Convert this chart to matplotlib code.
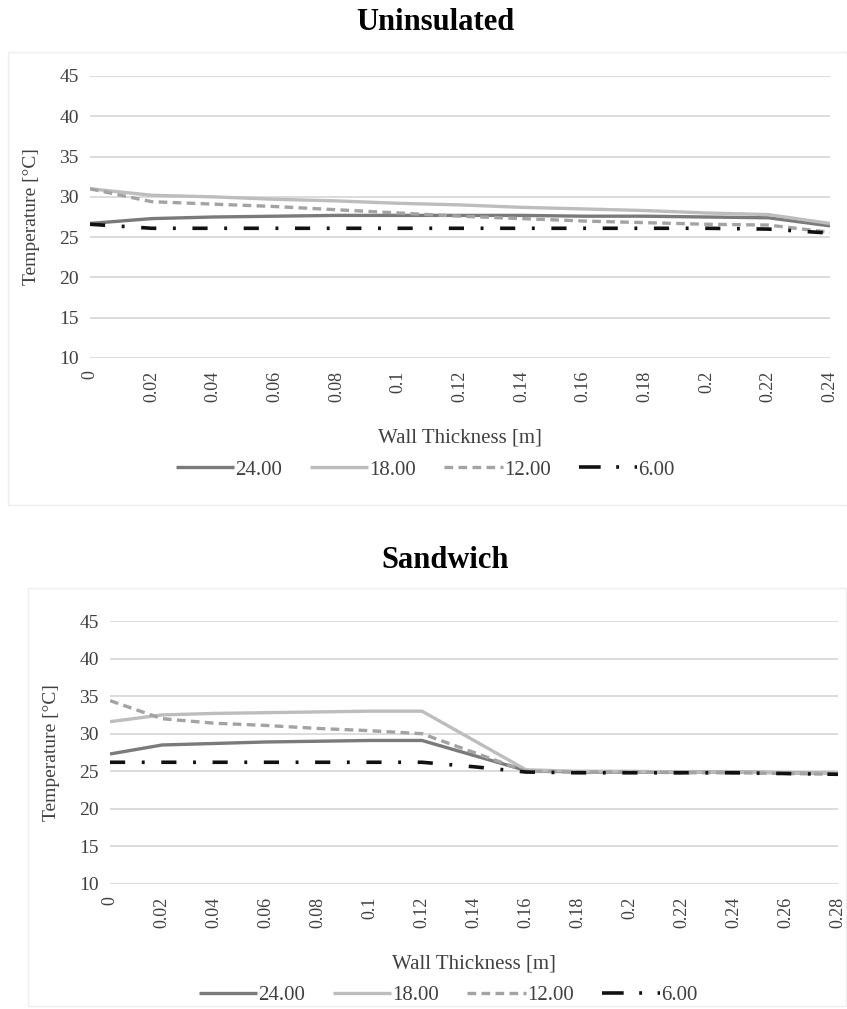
import numpy as np
import matplotlib.pyplot as plt
from matplotlib.patches import Rectangle
from matplotlib.lines import Line2D

plt.rcParams['font.family'] = ['Liberation Serif', 'DejaVu Serif']

# ---- data ----
series_names = ["24.00", "18.00", "12.00", "6.00"]

# Uninsulated wall
x_uni = [0, 0.02, 0.04, 0.06, 0.08, 0.1, 0.12, 0.14, 0.16, 0.18, 0.2, 0.22, 0.24]
xlab_uni = ["0", "0.02", "0.04", "0.06", "0.08", "0.1", "0.12", "0.14", "0.16",
            "0.18", "0.2", "0.22", "0.24"]
uni_24 = [26.7, 27.3, 27.5, 27.6, 27.7, 27.7, 27.7, 27.7, 27.6, 27.6, 27.5, 27.4, 26.4]
uni_18 = [31.0, 30.2, 30.0, 29.7, 29.5, 29.2, 29.0, 28.7, 28.5, 28.3, 28.0, 27.8, 26.7]
uni_12 = [31.0, 29.4, 29.1, 28.8, 28.4, 28.0, 27.6, 27.3, 27.0, 26.8, 26.6, 26.5, 25.6]
uni_6 = [26.6, 26.1, 26.1, 26.1, 26.1, 26.1, 26.1, 26.1, 26.1, 26.1, 26.1, 26.0, 25.5]

# Sandwich wall
x_sw = [0, 0.02, 0.04, 0.06, 0.08, 0.1, 0.12, 0.14, 0.16, 0.18, 0.2, 0.22, 0.24, 0.26, 0.28]
xlab_sw = ["0", "0.02", "0.04", "0.06", "0.08", "0.1", "0.12", "0.14", "0.16",
           "0.18", "0.2", "0.22", "0.24", "0.26", "0.28"]
sw_24 = [27.3, 28.5, 28.7, 28.9, 29.0, 29.1, 29.1, 27.1, 25.1, 24.9, 24.9, 24.9, 24.9, 24.8, 24.7]
sw_18 = [31.6, 32.5, 32.7, 32.8, 32.9, 33.0, 33.0, 29.1, 25.2, 25.0, 25.0, 24.9, 24.9, 24.8, 24.7]
sw_12 = [34.4, 32.0, 31.4, 31.1, 30.7, 30.4, 30.0, 27.5, 25.0, 24.9, 24.9, 24.8, 24.8, 24.7, 24.6]
sw_6 = [26.2, 26.2, 26.2, 26.2, 26.2, 26.2, 26.2, 25.6, 24.9, 24.8, 24.8, 24.8, 24.8, 24.7, 24.6]

styles = [
    dict(color="#7a7a7a", lw=2.4, ls="-"),
    dict(color="#bdbdbd", lw=2.4, ls="-"),
    dict(color="#a3a3a3", lw=2.4, ls=(0, (2.6, 1.6))),
    dict(color="#111111", lw=2.6, ls=(0, (4.2, 4.6, 0.8, 4.6))),
]
# legend sample of the dash-dot line: dash, dot, dot (as in the original)
legend_ls = [None, None, None, (0, (6.0, 4.3, 0.8, 4.3, 0.8, 30))]

W, H = 847, 1009


def draw_chart(ax, x, ys, xlabels, legend_x):
    handles = []
    for y, name, st, lls in zip(ys, series_names, styles, legend_ls):
        ax.plot(x, y, solid_capstyle="butt", dash_capstyle="butt", **st)
        hst = dict(st)
        if lls is not None:
            hst["ls"] = lls
        handles.append(Line2D([], [], label=name, solid_capstyle="butt",
                              dash_capstyle="butt", **hst))
    ax.set_xlim(x[0], x[-1])
    ax.set_ylim(10, 45)
    ax.set_yticks(range(10, 50, 5))
    ax.set_xticks(x)
    ax.set_xticklabels(xlabels, rotation=90, fontsize=13, color="#404040")
    ax.tick_params(axis="y", labelsize=14, colors="#404040", length=0, pad=8)
    ax.tick_params(axis="x", length=0, pad=9)
    ax.grid(axis="y", color="#d9d9d9", lw=1.3)
    ax.set_axisbelow(True)
    for s in ax.spines.values():
        s.set_visible(False)
    ax.set_xlabel("Wall Thickness [m]", fontsize=15, color="#404040", labelpad=19)
    ax.set_ylabel("Temperature [°C]", fontsize=14, color="#404040", labelpad=14)
    ax.legend(handles=handles, loc="center", bbox_to_anchor=legend_x,
              bbox_transform=fig.transFigure, ncol=4, frameon=False, fontsize=15,
              handlelength=2.8, handletextpad=0.05, columnspacing=1.35,
              labelcolor="#404040")


fig = plt.figure(figsize=(8.47, 10.09), dpi=100)

# light frames around each chart
fig.patches.append(Rectangle((8 / W, 1 - 505 / H), 839 / W, 453 / H, transform=fig.transFigure,
                             fill=False, ec="#eeeeee", lw=1))
fig.patches.append(Rectangle((28 / W, 0.003), 818 / W, 1 - 588 / H - 0.003, transform=fig.transFigure,
                             fill=False, ec="#eeeeee", lw=1))

fig.text(435 / W, 1 - 22 / H, "Uninsulated", ha="center", va="center",
         fontsize=22, fontweight="bold")
fig.text(445 / W, 1 - 560 / H, "Sandwich", ha="center", va="center",
         fontsize=22, fontweight="bold")

ax1 = fig.add_axes([90 / W, 1 - 358 / H, 740 / W, 282 / H])
draw_chart(ax1, x_uni, [uni_24, uni_18, uni_12, uni_6], xlab_uni, (425 / W, 1 - 470 / H))

ax2 = fig.add_axes([110 / W, 1 - 884 / H, 728 / W, 263 / H])
draw_chart(ax2, x_sw, [sw_24, sw_18, sw_12, sw_6], xlab_sw, (448 / W, 1 - 995 / H))

fig.savefig("out.png", dpi=100)
